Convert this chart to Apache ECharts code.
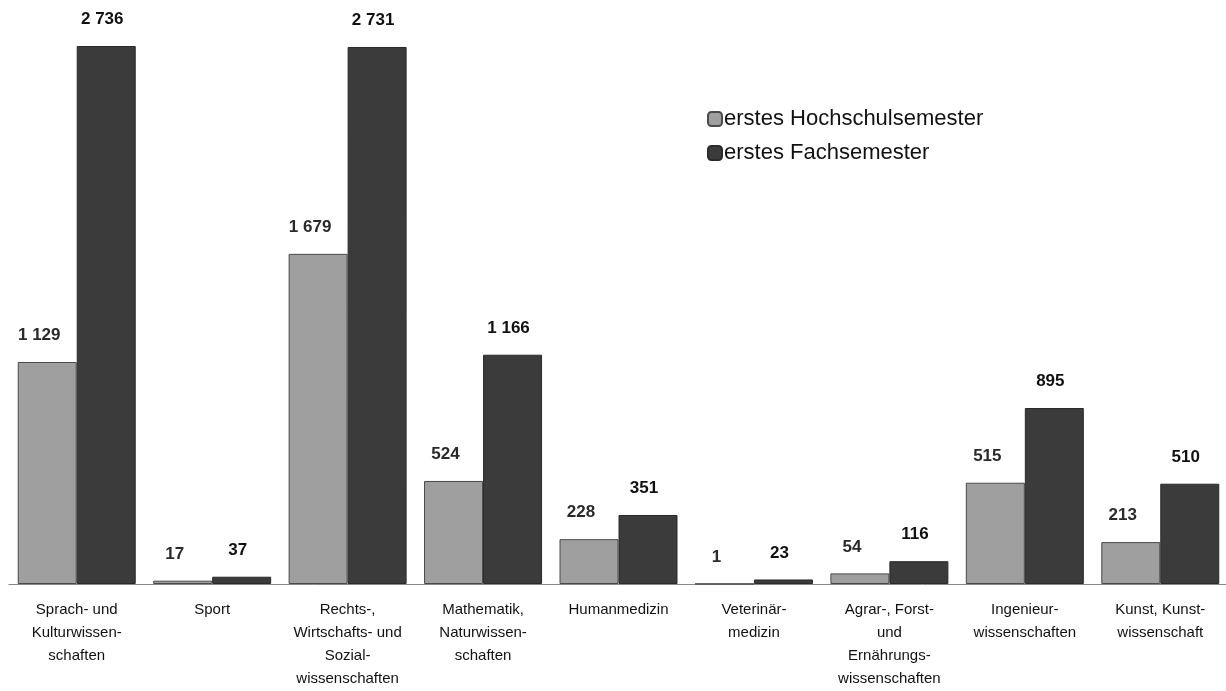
<!DOCTYPE html>
<html lang="de">
<head>
    <meta charset="UTF-8">
    <title>Studienanfänger nach Fächergruppen</title>
    <script src="https://cdn.jsdelivr.net/npm/echarts@6/dist/echarts.min.js"></script>
    <style>
        html, body { margin: 0; padding: 0; background: #fff; }
        #main { width: 1226px; height: 691px; }
    </style>
</head>
<body>
	<div id="main"></div>
	<script>
	    var categories = [
	        'Sprach- und\nKulturwissen-\nschaften',
	        'Sport',
	        'Rechts-,\nWirtschafts- und\nSozial-\nwissenschaften',
	        'Mathematik,\nNaturwissen-\nschaften',
	        'Humanmedizin',
	        'Veterinär-\nmedizin',
	        'Agrar-, Forst-\nund\nErnährungs-\nwissenschaften',
	        'Ingenieur-\nwissenschaften',
	        'Kunst, Kunst-\nwissenschaft'
	    ];
	    var hochschulsemester = [1129, 17, 1679, 524, 228, 1, 54, 515, 213];
	    var fachsemester = [2736, 37, 2731, 1166, 351, 23, 116, 895, 510];

	    // Zahlen mit Leerzeichen als Tausendertrenner
	    function fmt(p) {
	        return String(p.value).replace(/\B(?=(\d{3})+(?!\d))/g, ' ');
	    }

	    var myChart = echarts.init(document.getElementById('main'));
	    var option = {
	        animation: false,
	        textStyle: { fontFamily: 'Liberation Sans, Arial, sans-serif' },
	        legend: {
	            orient: 'vertical',
	            left: 702,
	            top: 103,
	            itemWidth: 14,
	            itemHeight: 14,
	            itemGap: 12,
	            icon: 'roundRect',
	            textStyle: { fontSize: 22, color: '#111', padding: [0, 0, 0, -3] },
	            data: ['erstes Hochschulsemester', 'erstes Fachsemester']
	        },
	        grid: { left: 9, right: -2, top: 46, bottom: 107, outerBoundsMode: 'none' },
	        xAxis: {
	            type: 'category',
	            data: categories,
	            axisTick: { show: false },
	            axisLine: { lineStyle: { color: '#888', width: 1 } },
	            axisLabel: {
	                interval: 0,
	                margin: 14,
	                fontSize: 15,
	                lineHeight: 23,
	                color: '#111'
	            }
	        },
	        yAxis: {
	            type: 'value',
	            min: 0,
	            max: 2736,
	            show: false,
	            splitLine: { show: false }
	        },
	        series: [
	            {
	                name: 'erstes Hochschulsemester',
	                type: 'bar',
	                data: hochschulsemester,
	                barWidth: 59,
	                barGap: '0%',
	                itemStyle: { color: '#9f9f9f', borderColor: '#4a4a4a', borderWidth: 1 },
	                label: {
	                    show: true,
	                    position: 'top',
	                    distance: 18,
	                    offset: [-8, 0],
	                    fontSize: 17,
	                    fontWeight: 'bold',
	                    color: '#2a2a2a',
	                    formatter: fmt
	                }
	            },
	            {
	                name: 'erstes Fachsemester',
	                type: 'bar',
	                data: fachsemester,
	                barWidth: 59,
	                itemStyle: { color: '#3b3b3b', borderColor: '#2a2a2a', borderWidth: 1 },
	                label: {
	                    show: true,
	                    position: 'top',
	                    distance: 18,
	                    offset: [-4, 0],
	                    fontSize: 17,
	                    fontWeight: 'bold',
	                    color: '#111',
	                    formatter: fmt
	                }
	            }
	        ]
	    };
	    myChart.setOption(option);
	</script>
</body>
</html>
